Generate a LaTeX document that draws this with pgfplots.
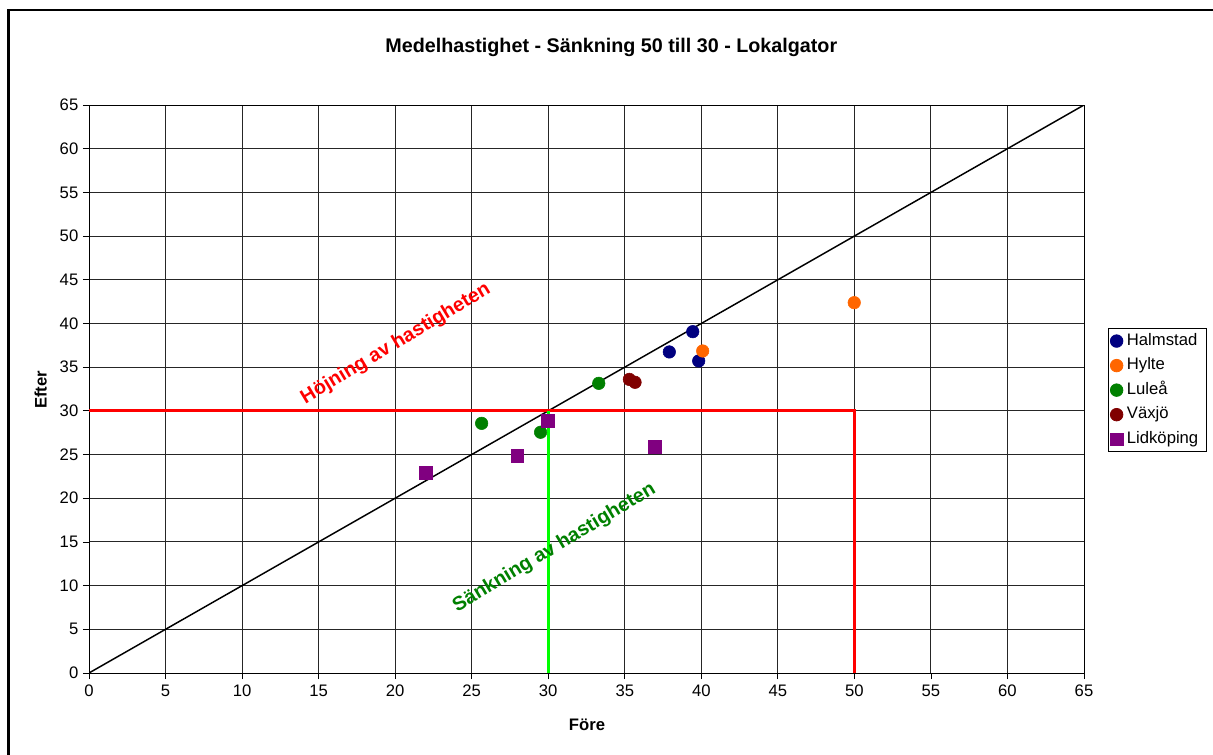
\documentclass[border=0pt]{standalone}
\usepackage{fontspec}
\setmainfont{Liberation Sans}
\usepackage{pgfplots}
\pgfplotsset{compat=1.18}
\definecolor{cNavy}{RGB}{0,0,128}
\definecolor{cOrange}{RGB}{255,102,0}
\definecolor{cGreen}{RGB}{0,128,0}
\definecolor{cMaroon}{RGB}{128,0,0}
\definecolor{cPurple}{RGB}{128,0,128}
\definecolor{cLime}{RGB}{0,255,0}
\definecolor{cRed}{RGB}{255,0,0}
\begin{document}
\begin{tikzpicture}
\path[use as bounding box] (0,0) rectangle (909.75pt,-566.25pt);
\draw[line width=2pt, line join=miter] (6.5pt,-570pt) -- (6.5pt,-7.5pt) -- (915pt,-7.5pt);
\node[font=\bfseries\fontsize{14.8}{17}\selectfont] at (458.5pt,-35.8pt) {Medelhastighet - Sänkning 50 till 30 - Lokalgator};
\node[font=\bfseries\fontsize{12.5}{14}\selectfont] at (440.25pt,-543.75pt) {Före};
\node[font=\bfseries\fontsize{12.5}{14}\selectfont, rotate=90] at (30.5pt,-292.5pt) {Efter};
\begin{axis}[
  at={(66.75pt,-504.75pt)}, anchor=south west,
  scale only axis, width=746.25pt, height=426pt,
  xmin=0, xmax=65, ymin=0, ymax=65,
  xtick={0,5,...,65}, ytick={0,5,...,65},
  grid=major, major grid style={black!85, line width=0.65pt},
  axis line style={black, line width=0.75pt},
  tick style={black, line width=0.6pt},
  tick align=outside, major tick length=4.5pt,
  xtick pos=bottom, ytick pos=left,
  ticklabel style={font=\fontsize{12.5}{14}\selectfont},
  xticklabel style={yshift=-1pt},
  /pgf/number format/assume math mode=true,
  legend style={at={(1.0241,0.6074)}, anchor=north west, draw=black, line width=0.6pt,
    font=\fontsize{12.5}{14}\selectfont, inner xsep=1.5pt, inner ysep=2.5pt, row sep=4.4pt,
    nodes={text height=9pt, text depth=3pt, inner sep=1pt},
    /tikz/every odd column/.append style={column sep=2pt}},
  legend cell align=left,
]
\addplot[black, line width=1.1pt, forget plot] coordinates {(0,0) (65,65)};
\addplot[cRed, line width=2.2pt, forget plot] coordinates {(0,30) (50,30) (50,0)};
\addplot[cLime, line width=2.2pt, forget plot] coordinates {(30,0) (30,30)};
\addplot[only marks, mark=*, color=cNavy, mark size=4.7pt] coordinates {(39.44,39.06) (37.91,36.74) (39.83,35.71)};
\addlegendentry{Halmstad}
\addplot[only marks, mark=*, color=cOrange, mark size=4.7pt] coordinates {(49.99,42.38) (40.09,36.85)};
\addlegendentry{Hylte}
\addplot[only marks, mark=*, color=cGreen, mark size=4.7pt] coordinates {(33.3,33.15) (25.65,28.57) (29.5,27.55)};
\addlegendentry{Luleå}
\addplot[only marks, mark=*, color=cMaroon, mark size=4.7pt] coordinates {(35.3,33.6) (35.67,33.27)};
\addlegendentry{Växjö}
\addplot[only marks, mark=square*, color=cPurple, mark size=4.7pt] coordinates {(22.0,22.92) (27.98,24.87) (29.96,28.88) (36.97,25.9)};
\addlegendentry{Lidköping\hspace*{3.5pt}}
\node[rotate=31, text=cRed, font=\bfseries\fontsize{14.8}{17}\selectfont] at (axis cs:20.05,37.65) {Höjning av hastigheten};
\node[rotate=31, text=cGreen, font=\bfseries\fontsize{14.8}{17}\selectfont] at (axis cs:30.4,14.3) {Sänkning av hastigheten};
\end{axis}
\end{tikzpicture}
\end{document}
